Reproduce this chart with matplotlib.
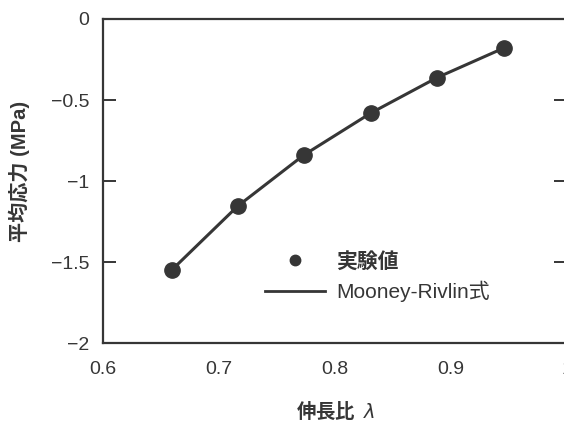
import matplotlib
matplotlib.use("Agg")
import matplotlib.pyplot as plt
from matplotlib.lines import Line2D

plt.rcParams['font.family'] = ['Liberation Sans', 'Noto Sans CJK JP', 'DejaVu Sans']
plt.rcParams['axes.unicode_minus'] = True

# stretch ratio and mean stress
stretch = [0.659, 0.716, 0.773, 0.831, 0.888, 0.946]
stress = [-1.55, -1.155, -0.84, -0.58, -0.362, -0.178]

x_ticks = [0.6, 0.7, 0.8, 0.9, 1.0]
x_labels = ['0.6', '0.7', '0.8', '0.9', '1']
y_ticks = [0, -0.5, -1, -1.5, -2]
y_labels = ['0', '\u22120.5', '\u22121', '\u22121.5', '\u22122']

ink = '#363636'

fig = plt.figure(figsize=(5.64, 4.22), dpi=100)
ax = fig.add_axes([0.183, 0.187, 0.822, 0.768])

ax.plot(stretch, stress, '-', color=ink, lw=2.2)
ax.plot(stretch, stress, 'o', color=ink, ms=11)

ax.set_xlim(0.6, 1.0)
ax.set_ylim(-2, 0)
ax.set_xticks(x_ticks)
ax.set_xticklabels(x_labels)
ax.set_yticks(y_ticks)
ax.set_yticklabels(y_labels)
ax.tick_params(axis='x', length=0, pad=13, labelsize=14, colors=ink)
ax.tick_params(axis='y', direction='in', length=9.5, width=1.4, pad=10,
               labelsize=14, colors=ink, right=True)
for s in ax.spines.values():
    s.set_color(ink)
    s.set_linewidth(1.6)

ax.set_ylabel('平均応力 (MPa)', fontsize=14.5, fontweight='bold', color=ink)
ax.yaxis.set_label_coords(-0.157, 0.53)
# mathtext does no font fallback, so the CJK family goes first here
ax.set_xlabel('伸長比  $\\lambda$', fontsize=14, fontweight='bold', color=ink,
              family=['Noto Sans CJK JP', 'DejaVu Sans'], labelpad=16)

handles = [Line2D([], [], ls='none', marker='o', color=ink, ms=7.5),
           Line2D([], [], ls='-', color=ink, lw=2.0)]
leg = fig.legend(handles, ['実験値', 'Mooney-Rivlin式'], loc='center left',
                 bbox_to_anchor=(265 / 564, 1 - 277 / 422), frameon=False,
                 fontsize=15, borderpad=0, borderaxespad=0,
                 handlelength=2.9, handletextpad=0.5, labelspacing=0.45)
for t in leg.get_texts():
    t.set_color(ink)
leg.get_texts()[0].set_fontweight('bold')

fig.savefig('out.png', dpi=100)
